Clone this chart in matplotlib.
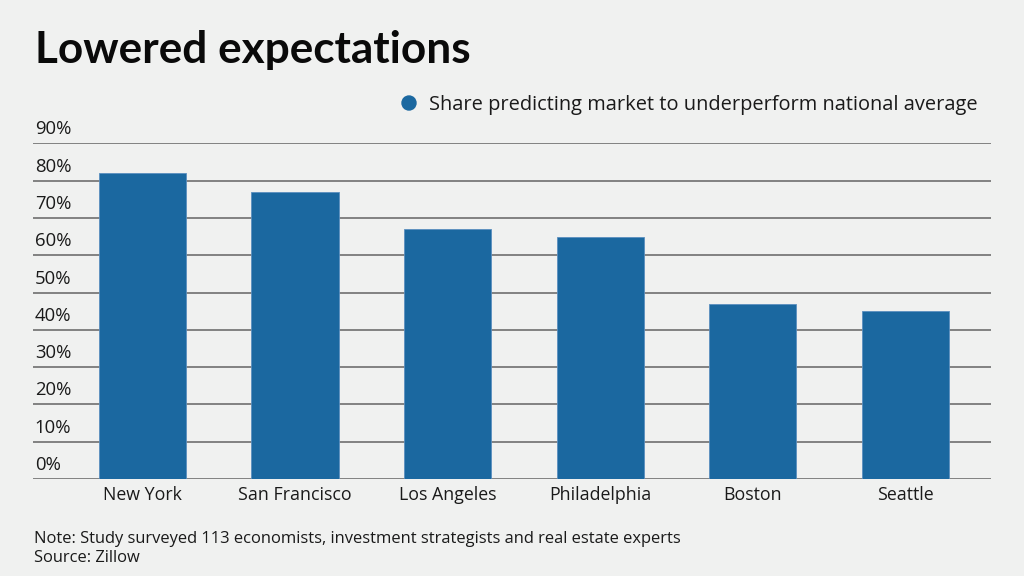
import matplotlib
matplotlib.use("Agg")
import matplotlib.pyplot as plt
from matplotlib.patches import Ellipse

categories = ["New York", "San Francisco", "Los Angeles", "Philadelphia", "Boston", "Seattle"]
values = [82, 77, 67, 65, 47, 45]
yticks = [0, 10, 20, 30, 40, 50, 60, 70, 80, 90]
ytick_labels = [f"{v}%" for v in yticks]
title = "Lowered expectations"
legend_label = "Share predicting market to underperform national average"
note = "Note: Study surveyed 113 economists, investment strategists and real estate experts"
source = "Source: Zillow"

BG = "#f0f1f0"
BAR = "#1b68a0"
GRID = "#6f6f6f"
FONT = ["Open Sans", "DejaVu Sans"]
TFONT = ["Lato", "DejaVu Sans"]

W, H = 1024, 576
fig = plt.figure(figsize=(W / 100, H / 100), dpi=100, facecolor=BG)

left, right = 32.7, 991
y0, y90 = 479, 143.3
ax = fig.add_axes([left / W, (H - y0) / H, (right - left) / W, (y0 - y90) / H])
ax.set_facecolor(BG)
ax.set_xlim(-0.721, 5.562)
ax.set_ylim(0, 90)
for s in ax.spines.values():
    s.set_visible(False)
ax.set_yticks([])
ax.set_xticks(range(len(categories)))
ax.set_xticklabels(categories, fontsize=12.8, family=FONT, color="#1a1a1a")
ax.tick_params(axis="x", length=0, pad=5)

for v, lab in zip(yticks, ytick_labels):
    ax.axhline(v, color=GRID, lw=1.2, zorder=1)
    ax.annotate(lab, xy=(0, v), xycoords=("axes fraction", "data"),
                xytext=(2, 5), textcoords="offset pixels",
                fontsize=13.3, family=FONT, color="#1a1a1a", va="bottom", ha="left")

ax.bar(range(len(categories)), values, width=0.573, color=BAR, zorder=2,
       edgecolor="#5a8fbf", linewidth=0.6)

fig.text(35 / W, 1 - 63 / H, title, fontsize=31.8, fontweight="bold", family=TFONT,
         color="#0a0a0a", va="baseline", ha="left")

# legend marker
fig.patches.append(Ellipse((409 / W, 1 - 103 / H), 14 / W, 14 / H,
                           transform=fig.transFigure, color=BAR))
fig.text(429 / W, 1 - 110 / H, legend_label, fontsize=14.4, family=FONT,
         color="#1a1a1a", va="baseline", ha="left")

fig.text(34 / W, 1 - 543 / H, note, fontsize=11.9, family=FONT, color="#1a1a1a",
         va="baseline", ha="left")
fig.text(34 / W, 1 - 562 / H, source, fontsize=11.9, family=FONT, color="#1a1a1a",
         va="baseline", ha="left")

fig.savefig("out.png", dpi=100, facecolor=BG)
